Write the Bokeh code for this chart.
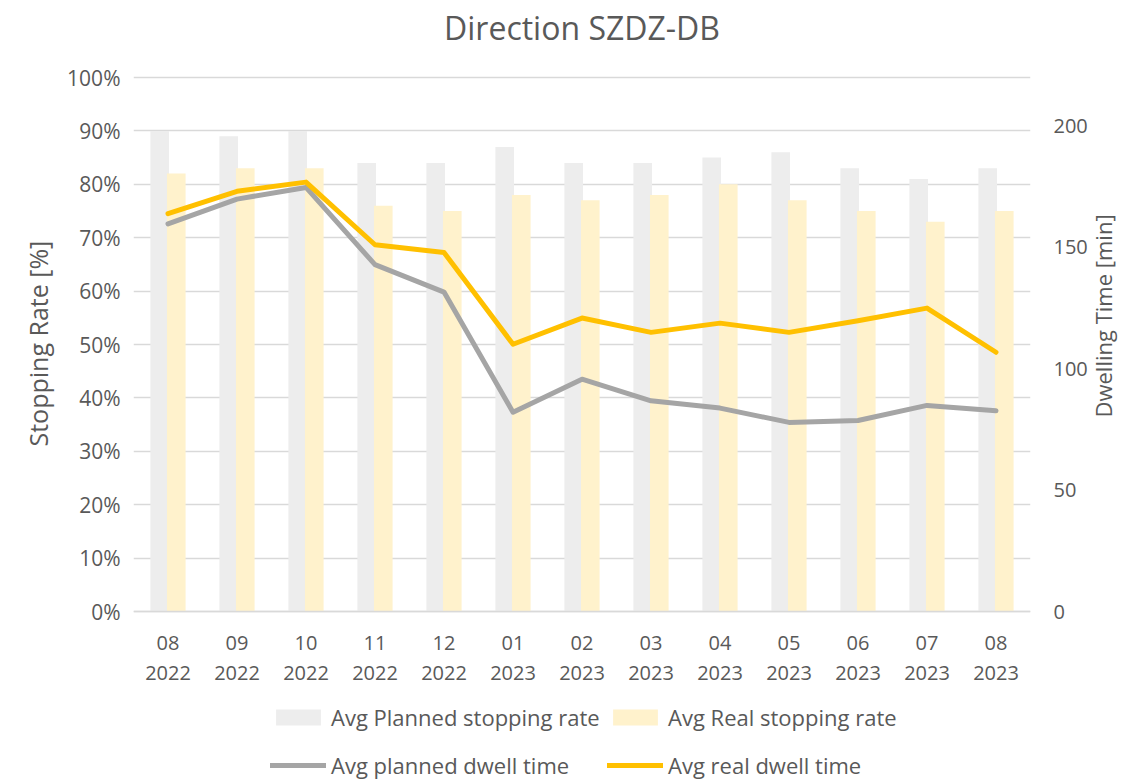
import math
from bokeh.plotting import figure
from bokeh.models import (FactorRange, Range1d, LinearAxis, FixedTicker, PrintfTickFormatter,
                          Legend, LegendItem, ColumnDataSource, Title)
from bokeh.transform import dodge
from bokeh.embed import file_html
from bokeh.resources import INLINE

months = ["08", "09", "10", "11", "12", "01", "02", "03", "04", "05", "06", "07", "08"]
years = ["2022", "2022", "2022", "2022", "2022", "2023", "2023", "2023", "2023", "2023", "2023", "2023", "2023"]
planned_rate = [90, 89, 90, 84, 84, 87, 84, 84, 85, 86, 83, 81, 83]
real_rate = [82, 83, 83, 76, 75, 78, 77, 78, 80, 77, 75, 73, 75]
planned_dwell = [159.7, 169.9, 174.7, 142.9, 131.6, 82.1, 95.7, 86.8, 83.8, 77.9, 78.7, 84.9, 82.7]
real_dwell = [163.9, 173.1, 176.9, 151.1, 147.9, 110.1, 120.9, 115.0, 118.8, 115.0, 119.8, 125.0, 106.8]
rate_ticks = list(range(0, 101, 10))
dwell_ticks = [0, 50, 100, 150, 200]

labels = [f"{m}\n{y}" for m, y in zip(months, years)]
src = ColumnDataSource(dict(cat=labels, planned_rate=planned_rate, real_rate=real_rate,
                            planned_dwell=planned_dwell, real_dwell=real_dwell))

FONT = "Open Sans"
TXT = "#595959"

# geometry (pixels): plot area 534 px tall for 0..100 %, frame extended above and below
AREA_H = 534
EXT_TOP = 26
EXT_BOT = 172
FRAME_H = AREA_H + EXT_TOP + EXT_BOT
RATE_MAX = 100.0
DWELL_MAX = 220.0
ppu_rate = AREA_H / RATE_MAX
ppu_dwell = AREA_H / DWELL_MAX

p = figure(x_range=FactorRange(*labels, range_padding=0),
           y_range=Range1d(-EXT_BOT / ppu_rate, RATE_MAX + EXT_TOP / ppu_rate),
           frame_width=897, frame_height=FRAME_H, output_backend="svg", toolbar_location=None,
           min_border_left=133, min_border_right=110, min_border_top=48, min_border_bottom=0,
           background_fill_color="white", border_fill_color="white")
p.outline_line_color = None
p.extra_y_ranges = {"dwell": Range1d(-EXT_BOT / ppu_dwell, DWELL_MAX + EXT_TOP / ppu_dwell)}

p.title = Title(text="Direction SZDZ-DB", align="center", text_font=FONT, text_font_size="32px",
                text_color=TXT, text_font_style="normal", standoff=6)

r1 = p.vbar(x=dodge("cat", -0.12, range=p.x_range), top="planned_rate", width=0.27, source=src,
            fill_color="#EDEDED", line_color=None)
r2 = p.vbar(x=dodge("cat", 0.12, range=p.x_range), top="real_rate", width=0.27, source=src,
            fill_color="#FFF2CC", line_color=None)
r3 = p.line(x="cat", y="planned_dwell", source=src, line_color="#A5A5A5", line_width=5,
            y_range_name="dwell", line_join="round", line_cap="round")
r4 = p.line(x="cat", y="real_dwell", source=src, line_color="#FFC000", line_width=5,
            y_range_name="dwell", line_join="round", line_cap="round")

p.xgrid.grid_line_color = None
p.ygrid.grid_line_color = "#D9D9D9"
p.ygrid.grid_line_width = 1.5

yl = p.yaxis[0]
yl.ticker = FixedTicker(ticks=rate_ticks)
yl.formatter = PrintfTickFormatter(format="%d%%")
yl.bounds = (0, RATE_MAX)
yl.axis_line_color = None
yl.major_tick_line_color = None
yl.minor_tick_line_color = None
yl.major_label_text_font = FONT
yl.major_label_text_font_size = "21px"
yl.major_label_text_color = TXT
yl.major_label_standoff = 7

left_title = Title(text="Stopping Rate [%]", align="left", offset=337, standoff=19,
                   text_font=FONT, text_font_size="25px", text_color=TXT,
                   text_font_style="normal")
p.add_layout(left_title, "left")

ra = LinearAxis(y_range_name="dwell", ticker=FixedTicker(ticks=dwell_ticks),
                axis_label="Dwelling Time [min]", bounds=(0, DWELL_MAX))
ra.axis_line_color = None
ra.major_tick_line_color = None
ra.minor_tick_line_color = None
ra.major_label_text_font = FONT
ra.major_label_text_font_size = "20px"
ra.major_label_text_color = TXT
ra.major_label_standoff = 17
ra.axis_label_text_font = FONT
ra.axis_label_text_font_size = "22px"
ra.axis_label_text_color = TXT
ra.axis_label_text_font_style = "normal"
ra.axis_label_standoff = 12
ra.axis_label_orientation = math.pi / 2
p.add_layout(ra, "right")

xa = p.xaxis[0]
xa.fixed_location = 0
xa.axis_line_color = "#D9D9D9"
xa.axis_line_width = 1.5
xa.major_tick_line_color = None
xa.minor_tick_line_color = None
xa.major_label_text_font = FONT
xa.major_label_text_font_size = "20px"
xa.major_label_text_color = TXT
xa.major_label_text_line_height = 1.14
xa.major_label_standoff = 11

def mk_legend(items, loc):
    return Legend(items=items, location=loc, orientation="horizontal",
                  label_text_font=FONT, label_text_font_size="22px", label_text_color=TXT,
                  glyph_width=56, glyph_height=20, label_standoff=5, spacing=6, padding=0,
                  margin=0, border_line_color=None, background_fill_alpha=0,
                  label_width=270)

lg1 = mk_legend([LegendItem(label="Avg Planned stopping rate", renderers=[r1]),
                 LegendItem(label="Avg Real stopping rate", renderers=[r2])], (137, 51))
lg2 = mk_legend([LegendItem(label="Avg planned dwell time", renderers=[r3]),
                 LegendItem(label="Avg real dwell time", renderers=[r4])], (137, 3))
p.add_layout(lg1)
p.add_layout(lg2)

open("out.html", "w").write(file_html(p, INLINE))
